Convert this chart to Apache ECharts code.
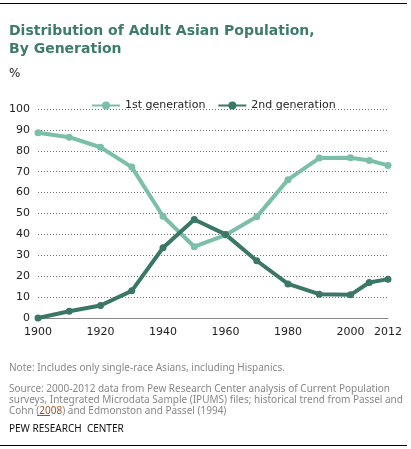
<!DOCTYPE html>
<html><head><meta charset="utf-8">
<script src="https://cdn.jsdelivr.net/npm/echarts@6/dist/echarts.min.js"></script>
<style>html,body{margin:0;padding:0;background:#fff}#c{width:411px;height:449px}</style>
</head><body><div id="c"></div>
<script>
const years = [1900,1910,1920,1930,1940,1950,1960,1970,1980,1990,2000,2006,2012];
const firstGen = [88.6,86.5,81.7,72.2,48.7,34.1,39.7,48.4,66.2,76.5,76.7,75.4,73.0];
const secondGen = [0,3.2,6.0,13.0,33.6,47.1,40.0,27.4,16.3,11.4,11.1,17.0,18.6];
const xTicks = [1900,1920,1940,1960,1980,2000,2012];
const seriesNames = ['1st generation','2nd generation'];

const chart = echarts.init(document.getElementById('c'));
const pair = a => years.map((y,i)=>[y,a[i]]);
const F = '"DejaVu Sans", Verdana, sans-serif';
const N = '"Noto Sans", sans-serif';
chart.setOption({
  animation:false,
  title:[
    {text:'Distribution of Adult Asian Population,\nBy Generation', left:4, top:17,
     textStyle:{fontFamily:F,fontSize:14,fontWeight:'bold',color:'#3e7b6c',lineHeight:18}},
    {text:'%', left:4, top:63, textStyle:{fontFamily:F,fontSize:12,fontWeight:'normal',color:'#222'}},
    {text:'Note: Includes only single-race Asians, including Hispanics.', left:4, top:358,
     textStyle:{fontFamily:N,fontSize:10,fontWeight:'normal',color:'#888'}},
    {text:'Source: 2000-2012 data from Pew Research Center analysis of Current Population\nsurveys, Integrated Microdata Sample (IPUMS) files; historical trend from Passel and\nCohn ({u|2008}) and Edmonston and Passel (1994)', left:4, top:379,
     textStyle:{fontFamily:N,fontSize:10,fontWeight:'normal',color:'#888',lineHeight:11,
       rich:{u:{color:'#a0522d',fontFamily:N,fontSize:10,lineHeight:11}}}},
    {text:'PEW RESEARCH  CENTER', left:4, top:419,
     textStyle:{fontFamily:N,fontSize:10,fontWeight:'normal',color:'#111'}}
  ],
  graphic:[
    {type:'line',shape:{x1:0,y1:3.5,x2:407,y2:3.5},style:{stroke:'#000',lineWidth:1}},
    {type:'line',shape:{x1:0,y1:445.5,x2:407,y2:445.5},style:{stroke:'#000',lineWidth:1}},
    {type:'line',shape:{x1:37,y1:415.5,x2:50,y2:415.5},style:{stroke:'#a0522d',lineWidth:1}}
  ],
  legend:{top:95,left:86,itemWidth:28,itemHeight:10,itemGap:12,
    textStyle:{fontFamily:F,fontSize:11,color:'#222'},data:seriesNames},
  grid:{left:38,right:23,top:109,bottom:131,containLabel:false},
  xAxis:{type:'value',min:1900,max:2012,interval:20,
    axisLine:{lineStyle:{color:'#888',width:1}},axisTick:{show:false},splitLine:{show:false},
    axisLabel:{fontFamily:F,fontSize:11,color:'#222',margin:9,customValues:xTicks,formatter:v=>String(v)}},
  yAxis:{type:'value',min:0,max:100,interval:10,
    axisLine:{show:false},axisTick:{show:false},
    splitLine:{lineStyle:{color:'#777',type:[1,2],width:1}},
    axisLabel:{fontFamily:F,fontSize:11,color:'#222',margin:8}},
  series:[
    {name:seriesNames[0],type:'line',data:pair(firstGen),color:'#7bbfaa',
     lineStyle:{width:4},symbol:'circle',symbolSize:7,itemStyle:{color:'#7bbfaa'}},
    {name:seriesNames[1],type:'line',data:pair(secondGen),color:'#3b7767',
     lineStyle:{width:4},symbol:'circle',symbolSize:7,itemStyle:{color:'#3b7767'}}
  ]
});
</script></body></html>
